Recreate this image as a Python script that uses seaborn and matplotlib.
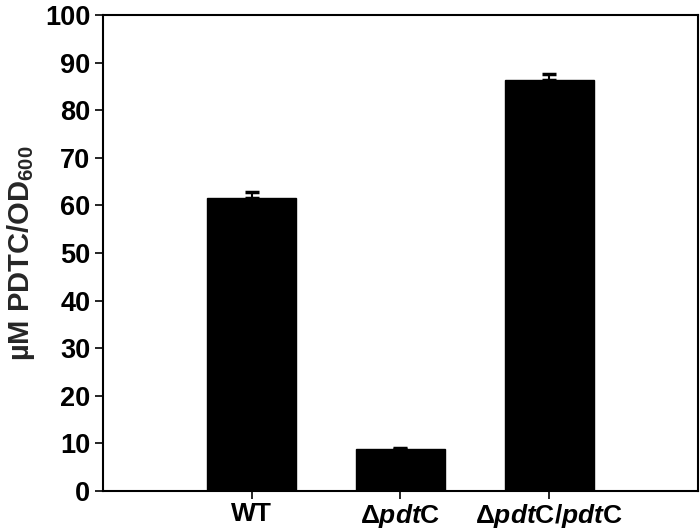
import matplotlib
matplotlib.use("Agg")
import matplotlib.pyplot as plt
import seaborn as sns
import pandas as pd

categories = ["WT", "dpdtC", "dpdtC/pdtC"]
tick_labels = [r"WT", r"$\Delta\mathit{pdt}$C", r"$\Delta\mathit{pdt}$C/$\mathit{pdt}$C"]
values = [61.5, 8.8, 86.3]
errors = [1.3, 0.3, 1.2]

sns.set_style("white")
plt.rcParams["font.family"] = ["Liberation Sans", "DejaVu Sans"]
plt.rcParams["font.weight"] = "bold"
plt.rcParams["mathtext.fontset"] = "custom"
plt.rcParams["mathtext.rm"] = "Liberation Sans:bold"
plt.rcParams["mathtext.it"] = "Liberation Sans:italic:bold"
plt.rcParams["mathtext.bf"] = "Liberation Sans:bold"
plt.rcParams["mathtext.sf"] = "Liberation Sans:bold"

fig = plt.figure(figsize=(7, 5.32), dpi=100)
ax = fig.add_axes([0.147, 0.077, 0.850, 0.895])

df = pd.DataFrame({"cat": categories, "val": values})
sns.barplot(data=df, x="cat", y="val", color="black", width=0.6, ax=ax,
            saturation=1, edgecolor="black")

xs = [p.get_x() + p.get_width() / 2 for p in ax.patches]
ax.errorbar(xs, values, yerr=[[0] * len(errors), errors], fmt="none",
            ecolor="black", elinewidth=1.5, capsize=5, capthick=2.5)

ax.set_xlim(-1.0, 3.0)
ax.set_ylim(0, 100)
ax.set_yticks(range(0, 101, 10))
ax.set_xticks(range(len(categories)))
ax.set_xticklabels(tick_labels)
ax.set_xlabel("")
ax.set_ylabel("\u00b5M PDTC/OD$_{600}$", fontsize=21, fontweight="bold", labelpad=6)

for s in ax.spines.values():
    s.set_visible(True)
    s.set_color("black")
    s.set_linewidth(1.5)

ax.tick_params(axis="y", direction="out", length=6, width=1.2, colors="black",
               labelsize=19.5, left=True, right=False, pad=3)
ax.tick_params(axis="x", direction="out", length=6, width=1.2, colors="black",
               labelsize=19, bottom=True, top=False, pad=2)
for lab in ax.get_yticklabels() + ax.get_xticklabels():
    lab.set_fontweight("bold")

fig.savefig("out.png", dpi=100)
